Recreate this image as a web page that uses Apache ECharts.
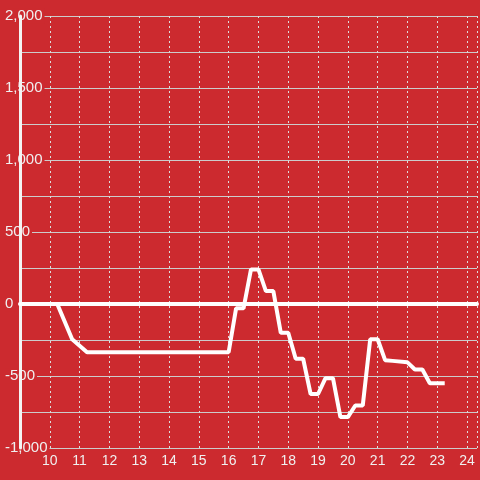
<!DOCTYPE html>
<html>
<head>
<meta charset="utf-8">
<script src="https://cdn.jsdelivr.net/npm/echarts@6/dist/echarts.min.js"></script>
<style>
  html, body { margin: 0; padding: 0; background: #cc2a2f; }
  #chart { width: 480px; height: 480px; }
</style>
</head>
<body>
<div id="chart"></div>
<script>
  // hour of day vs running value
  let hours = [9, 10.25, 10.75, 11.25, 16, 16.25, 16.5, 16.75, 17, 17.25, 17.5, 17.75, 18, 18.25, 18.5,
    18.75, 19, 19.25, 19.5, 19.75, 20, 20.25, 20.5, 20.75, 21, 21.25, 21.5, 22, 22.25, 22.5, 22.75, 23.25]
  let values = [0, 0, -245, -335, -335, -30, -30, 240, 240, 90, 90, -200, -200, -380, -380,
    -625, -625, -515, -515, -785, -785, -705, -705, -245, -245, -390, -395, -405, -455, -455, -550, -550]
  let yLabelValues = [-1000, -500, 0, 500, 1000, 1500, 2000]

  let bg = '#cc2a2f'
  let txt = '#f0f0f0'
  let font = 'Liberation Sans, Arial, sans-serif'

  let fmtY = v => yLabelValues.indexOf(v) >= 0 ? v.toLocaleString('en-US') : ''
  let fmtX = v => (v >= 10 && Number.isInteger(v)) ? String(v) : ''

  let option = {
    backgroundColor: bg,
    animation: false,
    grid: { left: 20, right: 0, top: 16, bottom: 32 },
    xAxis: [
      {
        type: 'value',
        min: 9,
        max: 24.333,
        interval: 1,
        axisLine: { show: false },
        axisTick: { show: false },
        axisLabel: { color: txt, fontSize: 14, fontFamily: font, margin: 6, formatter: fmtX },
        splitLine: { show: true, lineStyle: { color: '#dddddd', width: 1, type: [2, 3] } }
      },
      {
        // white zero line
        type: 'value',
        min: 9,
        max: 24.333,
        position: 'bottom',
        z: 1,
        axisLine: { show: true, onZero: true, lineStyle: { color: '#ffffff', width: 4 } },
        axisTick: { show: false },
        axisLabel: { show: false },
        splitLine: { show: false }
      }
    ],
    yAxis: [
      {
        type: 'value',
        min: -1000,
        max: 2000,
        interval: 250,
        axisLine: { show: false },
        axisTick: { show: false },
        axisLabel: {
          color: txt, fontSize: 15, fontFamily: font, align: 'left', margin: 15,
          backgroundColor: bg, padding: [0, 2, 0, 0], formatter: fmtY
        },
        splitLine: { show: true, lineStyle: { color: '#cccccc', width: 1 } }
      },
      {
        // white left axis line above the labels
        type: 'value',
        min: -1000,
        max: 2000,
        position: 'left',
        z: 1,
        axisLine: { show: true, onZero: false, lineStyle: { color: '#f4f4f4', width: 3 } },
        axisTick: { show: false },
        axisLabel: { show: false },
        splitLine: { show: false }
      }
    ],
    series: [
      {
        type: 'line',
        xAxisIndex: 0,
        yAxisIndex: 0,
        data: hours.map((h, i) => [h, values[i]]),
        showSymbol: false,
        symbol: 'none',
        lineStyle: { color: '#ffffff', width: 4 },
        z: 3
      }
    ]
  }

  echarts.init(document.getElementById('chart')).setOption(option)
</script>
</body>
</html>
